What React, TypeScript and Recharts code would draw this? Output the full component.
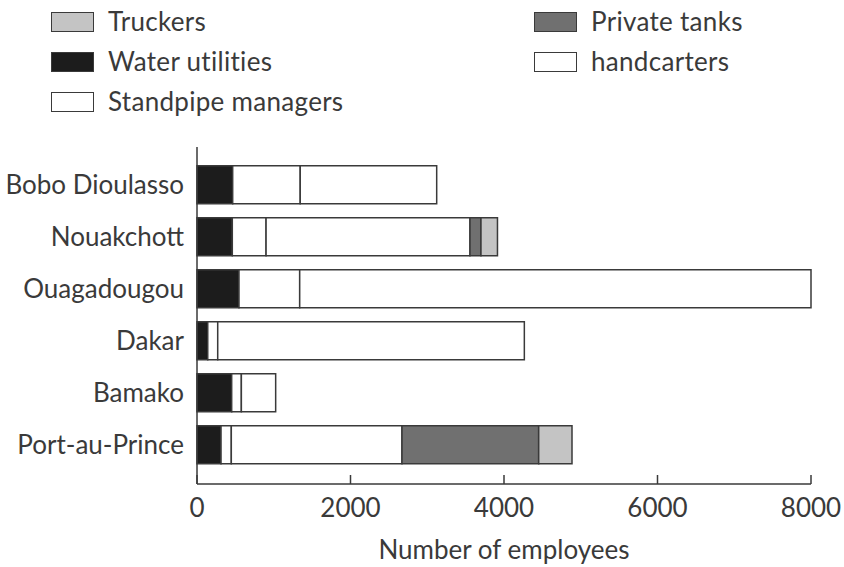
import { BarChart, Bar, XAxis, YAxis } from 'recharts';

const cities = ['Bobo Dioulasso', 'Nouakchott', 'Ouagadougou', 'Dakar', 'Bamako', 'Port-au-Prince'];
const waterUtilities = [465, 460, 547, 140, 452, 313];
const standpipeManagers = [880, 440, 791, 130, 126, 134];
const handcarters = [1778, 2657, 6662, 3995, 447, 2224];
const privateTanks = [0, 143, 0, 0, 0, 1781];
const truckers = [0, 215, 0, 0, 0, 434];
const xTicks = [0, 2000, 4000, 6000, 8000];

const data = cities.map((city, i) => ({
  city,
  water: waterUtilities[i],
  standpipe: standpipeManagers[i],
  handcarters: handcarters[i],
  tanks: privateTanks[i],
  truckers: truckers[i],
}));

const FONT = 'Lato, "Open Sans", sans-serif';
const FS = 26;
const INK = '#3a3a3a';
const EDGE = '#3a3a3a';

const legendItems = [
  { label: 'Truckers', fill: '#c4c4c4', left: 51, top: 11 },
  { label: 'Water utilities', fill: '#1c1c1c', left: 51, top: 51 },
  { label: 'Standpipe managers', fill: '#fff', left: 51, top: 91 },
  { label: 'Private tanks', fill: '#707070', left: 534, top: 11 },
  { label: 'handcarters', fill: '#fff', left: 534, top: 51 },
];

const LegendBox = () => (
  <div style={{ position: 'absolute', left: 0, top: 0, width: 844, height: 130 }}>
    {legendItems.map((it) => (
      <div key={it.label} style={{ position: 'absolute', left: it.left, top: it.top, display: 'flex', alignItems: 'center' }}>
        <div style={{ width: 41, height: 18, background: it.fill, border: `1.5px solid ${EDGE}` }} />
        <span style={{ marginLeft: 14, fontFamily: FONT, fontSize: FS, color: INK, lineHeight: '21px', letterSpacing: 0.3 }}>{it.label}</span>
      </div>
    ))}
  </div>
);

const XTick = (props: any) => {
  const { x, y, payload } = props;
  return (
    <g>
      <line x1={x} y1={y} x2={x} y2={y - 9} stroke={EDGE} strokeWidth={1.5} />
      <text x={x} y={y + 33} textAnchor="middle" fontFamily={FONT} fontSize={FS} fill={INK}>
        {payload.value}
      </text>
    </g>
  );
};

export default function App() {
  return (
    <div style={{ position: 'absolute', left: 0, top: 0, width: 844, height: 567, background: '#fff' }}>
      <BarChart
        width={844}
        height={567}
        data={data}
        layout="vertical"
        margin={{ top: 147, right: 33, bottom: 0, left: 0 }}
        barCategoryGap="13%"
      >
        <XAxis
          type="number"
          domain={[0, 8000]}
          ticks={xTicks}
          tickSize={0}
          tickMargin={0}
          tick={<XTick />}
          axisLine={{ stroke: EDGE, strokeWidth: 1.5 }}
          tickLine={false}
          height={83}
          label={{ value: 'Number of employees', position: 'insideBottom', offset: 8, fontFamily: FONT, fontSize: FS, fill: INK }}
        />
        <YAxis
          type="category"
          dataKey="city"
          width={197}
          interval={0}
          tickLine={false}
          tickMargin={7}
          padding={{ top: 12, bottom: 13 }}
          axisLine={{ stroke: EDGE, strokeWidth: 1.5 }}
          tick={{ fontFamily: FONT, fontSize: FS, fill: INK }}
        />
        <Bar dataKey="water" stackId="a" fill="#1c1c1c" stroke={EDGE} strokeWidth={1.5} isAnimationActive={false} />
        <Bar dataKey="standpipe" stackId="a" fill="#fff" stroke={EDGE} strokeWidth={1.5} isAnimationActive={false} />
        <Bar dataKey="handcarters" stackId="a" fill="#fff" stroke={EDGE} strokeWidth={1.5} isAnimationActive={false} />
        <Bar dataKey="tanks" stackId="a" fill="#707070" stroke={EDGE} strokeWidth={1.5} isAnimationActive={false} />
        <Bar dataKey="truckers" stackId="a" fill="#c4c4c4" stroke={EDGE} strokeWidth={1.5} isAnimationActive={false} />
      </BarChart>
      <LegendBox />
    </div>
  );
}
